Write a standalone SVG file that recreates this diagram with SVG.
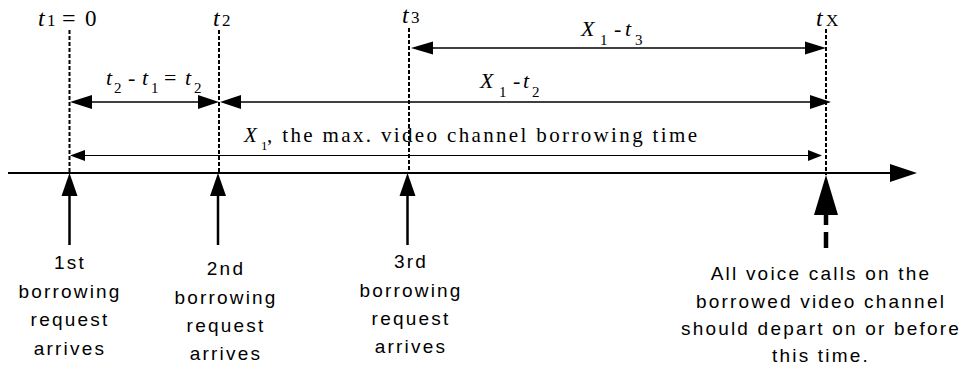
<svg xmlns="http://www.w3.org/2000/svg" width="964" height="371" viewBox="0 0 964 371">
<defs>
<style>
.bg{fill:#fff}
.dash{stroke:#000;stroke-width:2;stroke-dasharray:4 2;fill:none}
.ln{stroke:#000;fill:none}
.hd{fill:#000;stroke:none}
.m{font-family:"Liberation Serif","Times New Roman",serif;fill:#000}
.mi{font-style:italic}
.s{font-family:"Liberation Sans",Arial,sans-serif;font-size:19px;letter-spacing:2.2px;fill:#000;text-anchor:middle}
</style>
</defs>
<rect class="bg" width="964" height="371"/>
<g id="connectors">
<line class="dash" x1="69.5" y1="30" x2="69.5" y2="173"/>
<line class="dash" x1="219" y1="30" x2="219" y2="173"/>
<line class="dash" x1="409" y1="28" x2="409" y2="173"/>
<line class="dash" x1="826" y1="29" x2="826" y2="175"/>
<line class="ln" stroke-width="1.5" x1="430" y1="48" x2="808" y2="48"/>
<polygon class="hd" points="411,48 433,41.5 433,54.5"/>
<polygon class="hd" points="826,48 805,41.5 805,54.5"/>
<line class="ln" stroke-width="1.5" x1="90" y1="102" x2="200" y2="102"/>
<polygon class="hd" points="70,102 92,95 92,109"/>
<polygon class="hd" points="219,102 198,95 198,109"/>
<line class="ln" stroke-width="1.5" x1="238" y1="102" x2="812" y2="102"/>
<polygon class="hd" points="220,102 241,95 241,109"/>
<polygon class="hd" points="831,102 810,95 810,109"/>
<line class="ln" stroke-width="1.2" x1="84" y1="155.5" x2="810" y2="155.5"/>
<polygon class="hd" points="70,155.5 85,150 85,161"/>
<polygon class="hd" points="822,155.5 808,150 808,161"/>
<line class="ln" stroke-width="2" x1="8" y1="173" x2="893" y2="173"/>
<polygon class="hd" points="917,173 890,164 890,182"/>
<line class="ln" stroke-width="2.5" x1="69.5" y1="245" x2="69.5" y2="192"/>
<polygon class="hd" points="69.5,173 61.5,196 77.5,196"/>
<line class="ln" stroke-width="2.5" x1="218" y1="245" x2="218" y2="192"/>
<polygon class="hd" points="218,173 210,196 226,196"/>
<line class="ln" stroke-width="2.5" x1="407.5" y1="245" x2="407.5" y2="192"/>
<polygon class="hd" points="407.5,173 399.5,196 415.5,196"/>
<path class="ln" stroke-width="4.5" d="M826 214 V225 M826 232 V248"/>
<polygon class="hd" points="826,175 814,215 838,215"/>
</g>
<g id="top-labels">
<text class="m" y="26"><tspan class="mi" x="38" font-size="24">t</tspan><tspan x="47" font-size="17">1</tspan><tspan x="62" font-size="24">=</tspan><tspan x="85" font-size="23">0</tspan></text>
<text class="m" y="26"><tspan class="mi" x="213" font-size="24">t</tspan><tspan x="222" font-size="17">2</tspan></text>
<text class="m" y="23"><tspan class="mi" x="402" font-size="24">t</tspan><tspan x="411" font-size="17">3</tspan></text>
<text class="m" y="26"><tspan class="mi" x="816" font-size="24">t</tspan><tspan x="826" font-size="17">X</tspan></text>
</g>
<g id="label-x1-t3">
<text class="m" font-size="22"><tspan class="mi" x="581" y="36">X</tspan><tspan x="600" y="45" font-size="15">1</tspan><tspan x="614" y="36">-</tspan><tspan class="mi" x="625" y="36">t</tspan><tspan x="635" y="45" font-size="15">3</tspan></text>
</g>
<g id="label-t2-t1">
<text class="m" font-size="22"><tspan class="mi" x="106" y="85">t</tspan><tspan x="114" y="93" font-size="15">2</tspan><tspan x="128" y="85">-</tspan><tspan class="mi" x="142" y="85">t</tspan><tspan x="151" y="93" font-size="15">1</tspan><tspan x="164" y="85">=</tspan><tspan class="mi" x="185" y="85">t</tspan><tspan x="194" y="93" font-size="15">2</tspan></text>
</g>
<g id="label-x1-t2">
<text class="m" font-size="22"><tspan class="mi" x="480" y="88">X</tspan><tspan x="499" y="97" font-size="15">1</tspan><tspan x="513" y="88">-</tspan><tspan class="mi" x="523" y="88">t</tspan><tspan x="532" y="97" font-size="15">2</tspan></text>
</g>
<g id="label-x1">
<text class="m" font-size="21"><tspan class="mi" x="244" y="142">X</tspan><tspan x="261" y="150" font-size="13">1</tspan><tspan x="267" y="142" textLength="430" lengthAdjust="spacing">, the max. video channel borrowing time</tspan></text>
</g>
<g id="node-1st">
<text class="s"><tspan x="70" y="269">1st</tspan><tspan x="70" y="298">borrowing</tspan><tspan x="70" y="326">request</tspan><tspan x="70" y="355">arrives</tspan></text>
</g>
<g id="node-2nd">
<text class="s"><tspan x="226" y="275">2nd</tspan><tspan x="226" y="304">borrowing</tspan><tspan x="226" y="332">request</tspan><tspan x="226" y="360">arrives</tspan></text>
</g>
<g id="node-3rd">
<text class="s"><tspan x="411" y="268">3rd</tspan><tspan x="411" y="297">borrowing</tspan><tspan x="411" y="325">request</tspan><tspan x="411" y="353">arrives</tspan></text>
</g>
<g id="node-tx">
<text class="s"><tspan x="821" y="280">All voice calls on the</tspan><tspan x="821" y="308">borrowed video channel</tspan><tspan x="821" y="335">should depart on or before</tspan><tspan x="821" y="362">this time.</tspan></text>
</g>
</svg>
